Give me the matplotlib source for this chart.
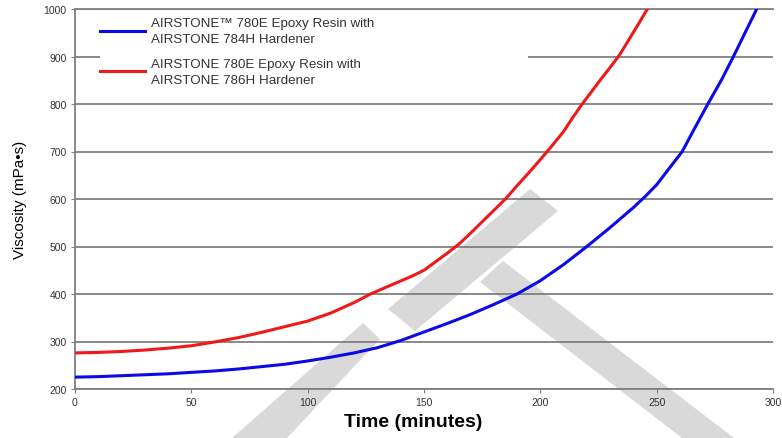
import matplotlib
matplotlib.use("Agg")
import matplotlib.pyplot as plt
from matplotlib.patches import Polygon, Rectangle

# values
time_784h = [0, 10, 20, 30, 40, 50, 60, 70, 80, 90, 100, 110, 120, 130, 140, 150,
             160, 170, 180, 190, 200, 210, 220, 230, 240, 245, 250, 255, 261, 266,
             272, 278, 283, 288, 293]
visc_784h = [225, 226, 228, 230, 232, 235, 238, 242, 247, 252, 259, 267, 276, 287, 302, 320,
             338, 357, 378, 400, 428, 462, 500, 540, 582, 605, 630, 662, 700, 746,
             800, 852, 900, 950, 1000]

time_786h = [0, 10, 20, 30, 40, 50, 60, 70, 80, 90, 100, 110, 120, 127, 135, 145, 150,
             155, 160, 165, 170, 175, 180, 185, 190, 195, 200, 205, 210, 214, 218, 222,
             226, 230, 234, 238, 242, 246]
visc_786h = [276, 277, 279, 282, 286, 291, 299, 308, 319, 331, 343, 360, 382, 400, 417, 438, 450,
             468, 486, 505, 528, 552, 576, 600, 628, 655, 683, 712, 742, 772, 800, 826,
             852, 877, 903, 935, 967, 1000]

label_784h = "AIRSTONE\u2122 780E Epoxy Resin with\nAIRSTONE 784H Hardener"
label_786h = "AIRSTONE 780E Epoxy Resin with\nAIRSTONE 786H Hardener"

x_ticks = [0, 50, 100, 150, 200, 250, 300]
y_ticks = [200, 300, 400, 500, 600, 700, 800, 900, 1000]

plt.rcParams['font.family'] = ['Liberation Sans', 'DejaVu Sans']

W, H = 782, 439
fig = plt.figure(figsize=(W / 100, H / 100), dpi=100)
fig.patch.set_facecolor("white")
ax = fig.add_axes([75 / W, 1 - 390 / H, 698 / W, 380 / H])
ax.set_facecolor("none")

# grey watermark behind the plot (pixel outline -> figure fraction)
def px(points):
    return [(x / W, 1 - y / H) for x, y in points]

wm = "#d9d9d9"
for pts in [
    [(232, 439), (363, 324), (380, 340), (287, 439)],
    [(388, 310), (530, 190), (558, 212), (415, 332)],
    [(503, 262), (734, 439), (682, 439), (480, 283)],
]:
    fig.patches.append(Polygon(px(pts), closed=True, transform=fig.transFigure,
                               facecolor=wm, edgecolor="none", zorder=-1))

ax.set_xlim(0, 300)
ax.set_ylim(200, 1000)
ax.set_xticks(x_ticks)
ax.set_yticks(y_ticks)
ax.set_axisbelow(True)
ax.grid(axis="y", color="#7f7f7f", linewidth=1.3)
ax.grid(axis="x", visible=False)

ax.spines["right"].set_visible(False)
for s in ["left", "bottom", "top"]:
    ax.spines[s].set_color("#7f7f7f")
    ax.spines[s].set_linewidth(1.3)

ax.tick_params(axis="both", direction="out", length=3, color="#7f7f7f",
               labelsize=7.5, labelcolor="#333333", pad=3)

ax.plot(time_784h, visc_784h, color="#0a0ae6", linewidth=2.2, label=label_784h, zorder=3)
ax.plot(time_786h, visc_786h, color="#f01818", linewidth=2.2, label=label_786h, zorder=3)

# white box of the legend area hides the 900 gridline
ax.add_patch(Rectangle((25 / 698, 1 - 92 / 380), 428 / 698, 90 / 380,
                       transform=ax.transAxes, facecolor="white",
                       edgecolor="none", zorder=1))

leg = ax.legend(loc="upper left", bbox_to_anchor=(0.03, 0.99), frameon=False,
                fontsize=9.6, handlelength=3.4, handletextpad=0.4,
                labelspacing=0.95, borderaxespad=0, borderpad=0.3)
for t in leg.get_texts():
    t.set_color("#333333")
    t.set_linespacing(1.45)
leg.set_zorder(5)

ax.set_xlabel("Time (minutes)", fontsize=14, fontweight="bold")
ax.xaxis.set_label_coords((413 - 75) / 698, -24 / 380)
ax.set_ylabel("Viscosity (mPa\u2022s)", fontsize=11)
ax.yaxis.set_label_coords(-48 / 698, 0.5)

fig.savefig("out.png", dpi=100)
